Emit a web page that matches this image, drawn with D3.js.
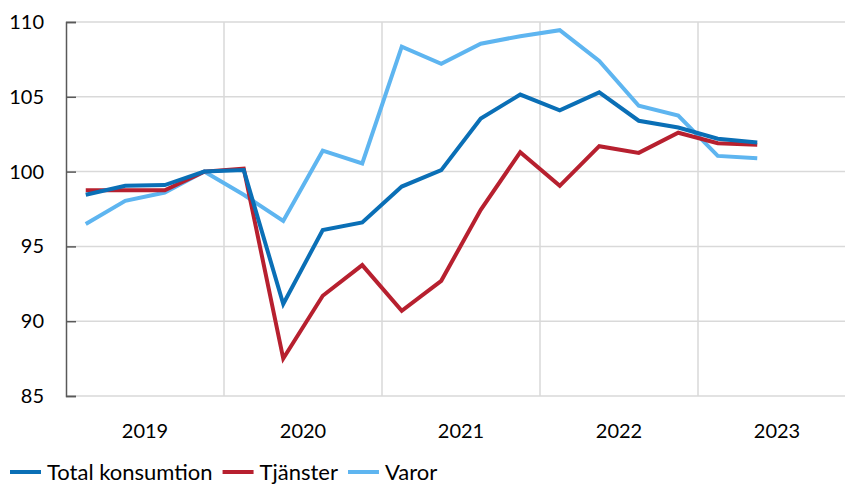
<!DOCTYPE html>
<html>
<head>
<meta charset="utf-8">
<script src="https://cdn.jsdelivr.net/npm/d3@7"></script>
<style>
  html, body { margin: 0; padding: 0; background: #fff; overflow: hidden; }
  svg { display: block; }
  text { font-family: Lato, "Open Sans", sans-serif; fill: #000; }
</style>
</head>
<body>
<svg id="chart" width="845" height="485"></svg>
<script>
// Quarterly index series, 2019 Q1 – 2023 Q2 (2019 Q4 = 100)
const years = ["2019", "2020", "2021", "2022", "2023"];
const quarters = ["Q1", "Q2", "Q3", "Q4"];
const total = [98.45, 99.05, 99.1, 100.0, 100.1, 91.15, 96.1, 96.6, 99.0, 100.1, 103.55, 105.15, 104.1, 105.3, 103.4, 102.95, 102.2, 101.95];
const tjanster = [98.75, 98.75, 98.75, 100.0, 100.2, 87.5, 91.7, 93.75, 90.7, 92.7, 97.45, 101.3, 99.05, 101.7, 101.25, 102.6, 101.9, 101.8];
const varor = [96.5, 98.05, 98.6, 100.0, 98.45, 96.7, 101.4, 100.55, 108.35, 107.2, 108.55, 109.05, 109.45, 107.4, 104.4, 103.75, 101.05, 100.9];
const yTicks = [85, 90, 95, 100, 105, 110];

const seriesNames = ["Total konsumtion", "Tjänster", "Varor"];
const seriesColors = ["#0a6fb6", "#b7202f", "#5eb5f0"];

const svg = d3.select("#chart");
const margin = { left: 66, top: 22 };
const plotW = 790, plotH = 374;

const g = svg.append("g").attr("transform", `translate(${margin.left},${margin.top})`);

// one slot per quarter across the full year range
const slots = years.flatMap(y => quarters.map(q => y + q));
const x = d3.scaleBand().domain(slots).range([0, plotW]);
const xYear = d3.scaleBand().domain(years).range([0, plotW]);
const y = d3.scaleLinear().domain([85, 110]).range([plotH, 0]);

// horizontal gridlines
g.append("g").selectAll("line").data(yTicks).join("line")
  .attr("x1", 0).attr("x2", plotW)
  .attr("y1", d => y(d)).attr("y2", d => y(d))
  .attr("stroke", "#d9d9d9").attr("stroke-width", 1.5);

// vertical separators between years
g.append("g").selectAll("line").data(years.slice(1)).join("line")
  .attr("x1", d => xYear(d)).attr("x2", d => xYear(d))
  .attr("y1", 0).attr("y2", plotH)
  .attr("stroke", "#d9d9d9").attr("stroke-width", 1.5);

// left axis with inward ticks
const yAxis = d3.axisLeft(y).tickValues(yTicks).tickSize(-10).tickPadding(22).tickFormat(d3.format("d"));
const ya = g.append("g").call(yAxis);
ya.select(".domain").attr("stroke", "#595959").attr("stroke-width", 1.5);
ya.selectAll(".tick line").attr("stroke", "#595959").attr("stroke-width", 1.5);
ya.selectAll(".tick text").attr("font-size", 20).attr("font-family", "Lato, sans-serif").attr("fill", "#000");

// year labels
g.append("g").selectAll("text").data(years).join("text")
  .attr("x", d => xYear(d) + xYear.bandwidth() / 2)
  .attr("y", plotH + 42)
  .attr("text-anchor", "middle")
  .attr("font-size", 20)
  .text(d => d);

// lines
const line = d3.line()
  .x((d, i) => x(slots[i]) + x.bandwidth() / 2)
  .y(d => y(d));

const drawOrder = [
  { data: varor, color: seriesColors[2] },
  { data: tjanster, color: seriesColors[1] },
  { data: total, color: seriesColors[0] }
];
g.append("g").selectAll("path").data(drawOrder).join("path")
  .attr("d", d => line(d.data))
  .attr("fill", "none")
  .attr("stroke", d => d.color)
  .attr("stroke-width", 4)
  .attr("stroke-linejoin", "miter");

// legend
const legend = svg.append("g").attr("transform", "translate(10,472)");
let lx = 0;
seriesNames.forEach((name, i) => {
  const item = legend.append("g").attr("transform", `translate(${lx},0)`);
  item.append("line").attr("x1", 0).attr("x2", 31).attr("y1", 0).attr("y2", 0)
    .attr("stroke", seriesColors[i]).attr("stroke-width", 4);
  const t = item.append("text").attr("x", 37).attr("y", 8).attr("font-size", 22).text(name);
  lx += 37 + t.node().getComputedTextLength() + 10;
});
</script>
</body>
</html>
